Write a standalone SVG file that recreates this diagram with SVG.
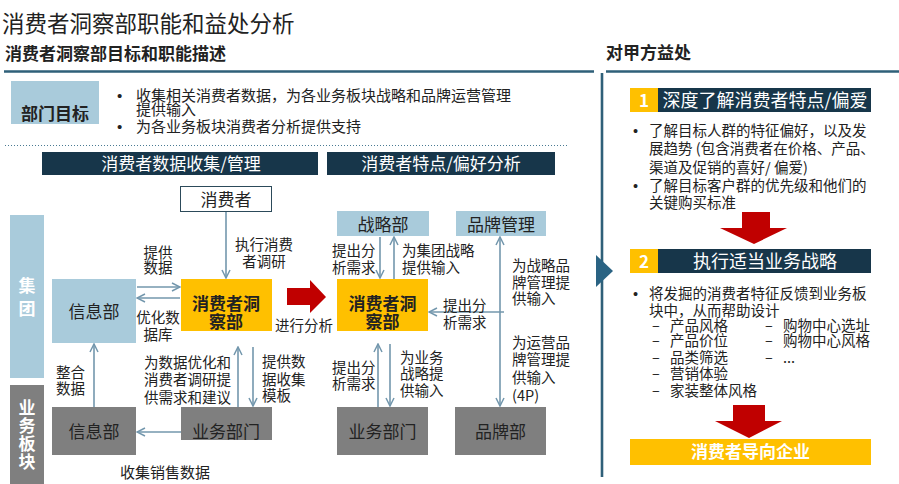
<svg xmlns="http://www.w3.org/2000/svg" width="899" height="484" viewBox="0 0 899 484">
<defs>
<style>
text{font-family:"Noto Sans CJK SC","Noto Sans",sans-serif;fill:#222}
.t{font-size:22.5px}
.h{font-size:17px;font-weight:bold}
.b{font-size:15px}
.l{font-size:14.5px}
.n{font-size:17px}
.nb{font-size:17px;font-weight:bold}
.w{fill:#fff}
.c{text-anchor:middle}
.v{writing-mode:vertical-rl;text-orientation:upright}
.lb{fill:#a9cbdb}
.gr{fill:#7f7f7f}
.ye{fill:#ffc000}
.nv{fill:#17364a}
.cn{stroke:#7397ad;stroke-width:1.6;fill:none}
.rule{stroke:#2f6079;stroke-width:2.6;fill:none}
.red{fill:#c00000}
.dot{font-family:"Liberation Sans",sans-serif}
</style>
<marker id="ah" viewBox="0 0 10 10" refX="9" refY="5" markerWidth="10" markerHeight="10" markerUnits="userSpaceOnUse" orient="auto-start-reverse">
<path d="M1,1 L9,5 L1,9" fill="none" stroke="#7397ad" stroke-width="1.5"/>
</marker>
</defs>
<rect width="899" height="484" fill="#fff"/>

<g id="headers">
<text class="t" x="2" y="31.5">消费者洞察部职能和益处分析</text>
<text class="h" x="5" y="60">消费者洞察部目标和职能描述</text>
<text class="h" x="606" y="59">对甲方益处</text>
<path class="rule" d="M4,71.5 H594 M606,71.5 H899 M602,73 V477"/>
<path d="M5,145.5 H567" stroke="#4a7a92" stroke-width="1" stroke-dasharray="1,2" fill="none"/>
<polygon points="596,255 613,271 596,287" fill="#2a6383"/>
</g>

<g id="goal">
<rect class="lb" x="11" y="81" width="88" height="43"/>
<text class="h c" x="55" y="119.5">部门目标</text>
<text class="b"><tspan class="dot" x="117" y="101">•</tspan><tspan x="136" y="101">收集相关消费者数据，为各业务板块战略和品牌运营管理</tspan><tspan x="136" y="114.5">提供输入</tspan><tspan class="dot" x="117" y="131.5">•</tspan><tspan x="136" y="131.5">为各业务板块消费者分析提供支持</tspan></text>
</g>

<g id="bar-collect">
<rect class="nv" x="42" y="152" width="276" height="23"/>
<text class="n w c" x="181" y="170">消费者数据收集/管理</text>
</g>
<g id="bar-analyze">
<rect class="nv" x="327" y="152" width="228" height="23"/>
<text class="n w c" x="441" y="170">消费者特点/偏好分析</text>
</g>

<g id="group-label">
<rect class="lb" x="10" y="215" width="34" height="163"/>
<text class="nb w v" x="27" y="277" style="letter-spacing:6px">集团</text>
</g>
<g id="bu-label">
<rect class="gr" x="10" y="385" width="34" height="99"/>
<text class="nb w v" x="27" y="399.5" style="letter-spacing:0.8px">业务板块</text>
</g>

<g id="consumer">
<rect x="180.5" y="186.5" width="91" height="25" fill="#fff" stroke="#2c4a5a" stroke-width="1"/>
<text class="n c" x="226" y="205.5">消费者</text>
</g>
<g id="it-group">
<rect class="lb" x="52" y="279" width="84" height="64"/>
<text class="n c" x="94" y="317.5">信息部</text>
</g>
<g id="insight-left">
<rect class="ye" x="181" y="279" width="91" height="52"/>
<text class="nb c"><tspan x="226" y="309.5">消费者洞</tspan><tspan x="226" y="327.5">察部</tspan></text>
</g>
<g id="it-bu">
<rect class="gr" x="52" y="407" width="84" height="48"/>
<text class="n c" x="94" y="437.5">信息部</text>
</g>
<g id="bu-left">
<rect class="gr" x="181" y="407" width="91" height="33"/>
<text class="n c" x="226" y="437.5">业务部门</text>
</g>

<g id="strategy">
<rect class="lb" x="337" y="211" width="92" height="25"/>
<text class="n c" x="383" y="230.5">战略部</text>
</g>
<g id="brand-mgmt">
<rect class="lb" x="456" y="211" width="90" height="25"/>
<text class="n c" x="501" y="230.5">品牌管理</text>
</g>
<g id="insight-right">
<rect class="ye" x="337" y="279" width="91" height="52"/>
<text class="nb c"><tspan x="382.5" y="309.5">消费者洞</tspan><tspan x="382.5" y="327.5">察部</tspan></text>
</g>
<g id="bu-right">
<rect class="gr" x="337" y="407" width="91" height="48"/>
<text class="n c" x="382.5" y="437.5">业务部门</text>
</g>
<g id="brand-dept">
<rect class="gr" x="455" y="407" width="91" height="48"/>
<text class="n c" x="500.5" y="437.5">品牌部</text>
</g>

<g id="connectors">
<path class="cn" marker-end="url(#ah)" d="M226,212 V278"/>
<path class="cn" marker-end="url(#ah)" d="M137,287 H180"/>
<path class="cn" marker-end="url(#ah)" d="M180,298 H137"/>
<path class="cn" marker-end="url(#ah)" d="M94,407 V344"/>
<path class="cn" marker-end="url(#ah)" d="M181,432 H137"/>
<path class="cn" marker-end="url(#ah)" d="M238,407 V347"/>
<path class="cn" marker-end="url(#ah)" d="M253,347 V406"/>
<path class="cn" marker-end="url(#ah)" d="M380,237 V278"/>
<path class="cn" marker-end="url(#ah)" d="M394,279 V237"/>
<path class="cn" marker-start="url(#ah)" marker-end="url(#ah)" d="M500,237 V406"/>
<path class="cn" marker-end="url(#ah)" d="M504,312 H429"/>
<path class="cn" marker-end="url(#ah)" d="M378,407 V344"/>
<path class="cn" marker-end="url(#ah)" d="M390,344 V406"/>
<polygon class="red" points="287,288 310,288 310,280 326,297 310,313 310,305 287,305"/>
</g>

<g id="labels">
<text class="l c"><tspan x="264" y="249.5">执行消费</tspan><tspan x="264" y="266.5">者调研</tspan></text>
<text class="l c"><tspan x="158" y="257.5">提供</tspan><tspan x="158" y="273">数据</tspan></text>
<text class="l c"><tspan x="158" y="322.5">优化数</tspan><tspan x="158" y="339.5">据库</tspan></text>
<text class="l"><tspan x="56" y="377.5">整合</tspan><tspan x="56" y="393.5">数据</tspan></text>
<text class="l"><tspan x="144" y="367.5">为数据优化和</tspan><tspan x="144" y="385">消费者调研提</tspan><tspan x="144" y="402.5">供需求和建议</tspan></text>
<text class="l"><tspan x="262" y="366.5">提供数</tspan><tspan x="262" y="384.5">据收集</tspan><tspan x="262" y="400.5">模板</tspan></text>
<text class="b" x="120" y="477.5">收集销售数据</text>
<text class="l" x="275" y="330.5">进行分析</text>
<text class="l"><tspan x="332" y="255.5">提出分</tspan><tspan x="332" y="272.5">析需求</tspan></text>
<text class="l"><tspan x="402" y="255.5">为集团战略</tspan><tspan x="402" y="272.5">提供输入</tspan></text>
<text class="l"><tspan x="443" y="310.5">提出分</tspan><tspan x="443" y="327.5">析需求</tspan></text>
<text class="l"><tspan x="512" y="270.5">为战略品</tspan><tspan x="512" y="287.5">牌管理提</tspan><tspan x="512" y="303.5">供输入</tspan></text>
<text class="l"><tspan x="512" y="347.5">为运营品</tspan><tspan x="512" y="364.5">牌管理提</tspan><tspan x="512" y="382.5">供输入</tspan><tspan x="512" y="400.5">(4P)</tspan></text>
<text class="l"><tspan x="332" y="372.5">提出分</tspan><tspan x="332" y="388.5">析需求</tspan></text>
<text class="l"><tspan x="400" y="362.5">为业务</tspan><tspan x="400" y="378.5">战略提</tspan><tspan x="400" y="395.5">供输入</tspan></text>
</g>

<g id="benefit-1">
<rect class="ye" x="630" y="88" width="28" height="24"/>
<rect class="nv" x="658" y="88" width="213" height="24"/>
<text class="nb w c" x="644" y="106.5">1</text>
<text class="w c" x="765" y="106.5" style="font-size:18px">深度了解消费者特点/偏爱</text>
<text class="l"><tspan class="dot" x="633" y="135.5">•</tspan><tspan x="649" y="135.5">了解目标人群的特征偏好，以及发</tspan><tspan x="649" y="153.5">展趋势 (包含消费者在价格、产品、</tspan><tspan x="649" y="172.5">渠道及促销的喜好/ 偏爱)</tspan><tspan class="dot" x="633" y="190.5">•</tspan><tspan x="649" y="190.5">了解目标客户群的优先级和他们的</tspan><tspan x="649" y="207.5">关键购买标准</tspan></text>
<polygon class="red" points="742,212 770,212 770,228 787,228 754,244 720,228 742,228"/>
</g>

<g id="benefit-2">
<rect class="ye" x="630" y="249" width="28" height="24"/>
<rect class="nv" x="658" y="249" width="213" height="24"/>
<text class="nb w c" x="644" y="267.5">2</text>
<text class="w c" x="765" y="267.5" style="font-size:18px">执行适当业务战略</text>
<text class="l"><tspan class="dot" x="633" y="298.5">•</tspan><tspan x="649" y="298.5">将发掘的消费者特征反馈到业务板</tspan><tspan x="649" y="315.5">块中，从而帮助设计</tspan><tspan x="652" y="330.5">–</tspan><tspan x="670" y="330.5">产品风格</tspan><tspan x="765" y="330.5">–</tspan><tspan x="783" y="330.5">购物中心选址</tspan><tspan x="652" y="346">–</tspan><tspan x="670" y="346">产品价位</tspan><tspan x="765" y="346">–</tspan><tspan x="783" y="346">购物中心风格</tspan><tspan x="652" y="362.5">–</tspan><tspan x="670" y="362.5">品类筛选</tspan><tspan x="765" y="362.5">–</tspan><tspan x="783" y="362.5">...</tspan><tspan x="652" y="378.5">–</tspan><tspan x="670" y="378.5">营销体验</tspan><tspan x="652" y="395.5">–</tspan><tspan x="670" y="395.5">家装整体风格</tspan></text>
<polygon class="red" points="733,405 765,405 765,421 782,421 749,438 715,421 733,421"/>
</g>

<g id="outcome">
<rect class="ye" x="630" y="439" width="241" height="26"/>
<text class="nb w c" x="750.5" y="458">消费者导向企业</text>
</g>
</svg>
